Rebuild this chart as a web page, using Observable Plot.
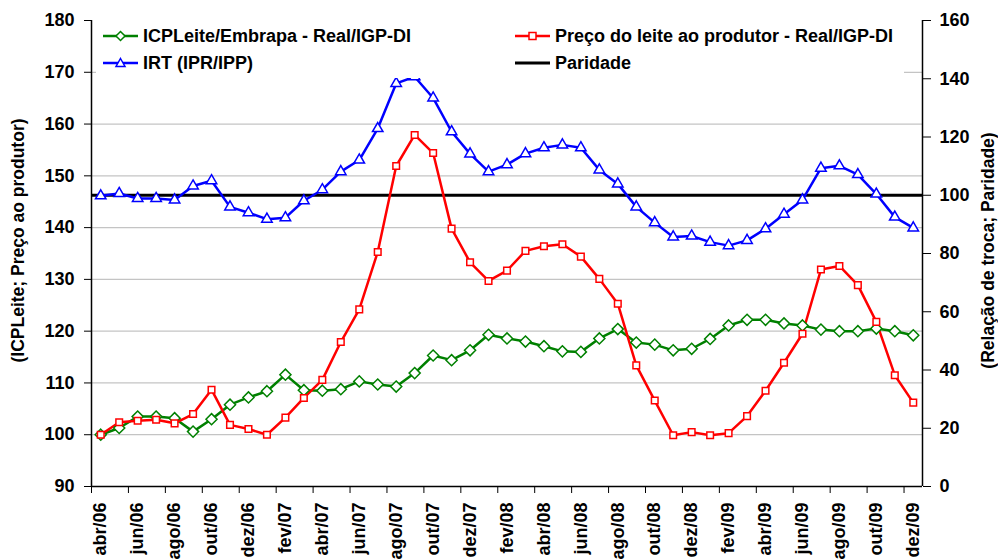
<!DOCTYPE html>
<html><head><meta charset="utf-8">
<script src="https://cdn.jsdelivr.net/npm/d3@7"></script>
<script src="https://cdn.jsdelivr.net/npm/@observablehq/plot@0.6"></script>
<style>
body{margin:0;background:#fff;font-family:"Liberation Sans",Arial,sans-serif;}
#wrap{position:relative;width:998px;height:559px;overflow:hidden;background:#fff;}
#legend{position:absolute;left:96px;top:22px;width:808px;height:56px;background:#fff;font-weight:bold;font-size:18px;color:#000;}
.item{position:absolute;display:flex;align-items:center;white-space:nowrap;height:24px;}
.item svg{margin-right:5px;}
</style></head><body><div id="wrap"><div id="chart"></div><div id="legend"></div></div>
<script>
const months = ["abr/06","mai/06","jun/06","jul/06","ago/06","set/06","out/06","nov/06","dez/06",
"jan/07","fev/07","mar/07","abr/07","mai/07","jun/07","jul/07","ago/07","set/07","out/07","nov/07","dez/07",
"jan/08","fev/08","mar/08","abr/08","mai/08","jun/08","jul/08","ago/08","set/08","out/08","nov/08","dez/08",
"jan/09","fev/09","mar/09","abr/09","mai/09","jun/09","jul/09","ago/09","set/09","out/09","nov/09","dez/09"];
const icpLeite = [100.0,101.3,103.5,103.5,103.2,100.6,103.0,105.8,107.2,108.4,111.6,108.6,108.5,108.8,110.3,109.7,109.3,111.9,115.3,114.4,116.3,119.3,118.6,118.0,117.1,116.1,116.0,118.6,120.4,117.8,117.4,116.3,116.6,118.5,121.1,122.2,122.2,121.5,121.1,120.3,120.0,120.0,120.5,120.0,119.2];
const preco = [100.0,102.4,102.7,102.9,102.2,104.0,108.7,101.9,101.1,100.0,103.3,107.1,110.6,117.9,124.2,135.3,151.9,157.9,154.4,139.8,133.3,129.7,131.7,135.5,136.4,136.8,134.4,130.1,125.3,113.4,106.6,99.9,100.5,99.9,100.3,103.6,108.5,113.9,119.5,131.9,132.6,128.9,121.8,111.5,106.2];
const irt = [99.8,100.6,98.9,98.9,98.4,103.2,105.0,96.0,94.0,91.8,92.3,98.1,101.9,108.1,112.1,122.9,138.4,140.7,133.4,121.8,114.2,108.1,110.5,114.3,116.3,117.3,116.3,108.7,103.9,96.0,90.6,85.7,86.0,83.9,82.7,84.5,88.5,93.5,98.4,109.3,110.1,107.1,100.4,92.5,88.8];
const paridade = 100;
const leftTicks = [90,100,110,120,130,140,150,160,170,180];
const rightTicks = [0,20,40,60,80,100,120,140,160];
const seriesNames = ["ICPLeite/Embrapa - Real/IGP-DI","Preço do leite ao produtor - Real/IGP-DI","IRT (IPR/IPP)","Paridade"];
const leftTitle = "(ICPLeite; Preço ao produtor)";
const rightTitle = "(Relação de troca; Paridade)";

const W = 998, H = 559, ML = 91, MR = 76, MT = 20, MB = 73;
const toLeft = r => 90 + r * (90 / 160);
const rows = months.map((m, i) => ({m, icp: icpLeite[i], preco: preco[i], irt: toLeft(irt[i])}));
const evenMonths = months.filter((d, i) => i % 2 === 0);
const bw = (W - ML - MR) / months.length;
const GREEN = "#008000", RED = "#ff0000", BLUE = "#0000ff";

const chart = Plot.plot({
  width: W, height: H, marginLeft: ML, marginRight: MR, marginTop: MT, marginBottom: MB,
  style: {fontFamily: "'Liberation Sans', Arial, sans-serif", fontWeight: "bold", fontSize: "18px", color: "#000", background: "#fff", overflow: "visible"},
  x: {type: "band", domain: months, paddingInner: 0, paddingOuter: 0, round: false, axis: null},
  y: {domain: [90, 180], axis: null},
  marks: [
    Plot.gridY(leftTicks.filter(t => t > 90 && t < 180), {stroke: "#c4c4c4", strokeOpacity: 1, strokeWidth: 1.3}),
    Plot.ruleY([toLeft(paridade)], {stroke: "#000", strokeWidth: 3}),
    Plot.line(rows, {x: "m", y: "icp", stroke: GREEN, strokeWidth: 2.5}),
    Plot.line(rows, {x: "m", y: "preco", stroke: RED, strokeWidth: 2.5}),
    Plot.line(rows, {x: "m", y: "irt", stroke: BLUE, strokeWidth: 2.5}),
    Plot.dot(rows, {x: "m", y: "icp", symbol: "diamond2", r: 5, stroke: GREEN, fill: "#fff", strokeWidth: 1.5}),
    Plot.dot(rows, {x: "m", y: "preco", symbol: "square2", r: 4.2, stroke: RED, fill: "#fff", strokeWidth: 1.5}),
    Plot.dot(rows, {x: "m", y: "irt", symbol: "triangle2", r: 5, stroke: BLUE, fill: "#fff", strokeWidth: 1.5}),
    Plot.ruleY([90], {stroke: "#000", strokeWidth: 1.5}),
    Plot.ruleX([months[0]], {dx: -bw / 2, stroke: "#000", strokeWidth: 1.5}),
    Plot.ruleX([months[months.length - 1]], {dx: bw / 2, stroke: "#000", strokeWidth: 1.5}),
    Plot.axisY(leftTicks, {anchor: "left", tickSize: 7, tickPadding: 10, label: null, fontSize: 18}),
    Plot.axisY(rightTicks.map(toLeft), {anchor: "right", tickSize: 8, tickPadding: 9, label: null, fontSize: 18,
      tickFormat: d => String(Math.round((d - 90) * 160 / 90))}),
    Plot.axisX(evenMonths, {anchor: "bottom", tickSize: 7, tickFormat: () => "", dx: -bw / 2, label: null}),
    Plot.axisX(evenMonths, {anchor: "bottom", tickSize: 0, tickPadding: 16, tickRotate: -90, label: null, fontSize: 18}),
    Plot.text([leftTitle], {frameAnchor: "left", textAnchor: "middle", rotate: -90, dx: -73, dy: -13, fontSize: 17.5, fontWeight: "bold"}),
    Plot.text([rightTitle], {frameAnchor: "right", textAnchor: "middle", rotate: -90, dx: 66, dy: -3, fontSize: 17.5, fontWeight: "bold"})
  ]
});
document.getElementById("chart").appendChild(chart);

// legend
function swatch(color, sym) {
  let m = "";
  if (sym === "diamond") m = `<path d="M17.5,1.5 L22,6 L17.5,10.5 L13,6 Z" fill="#fff" stroke="${color}" stroke-width="1.5"/>`;
  if (sym === "square") m = `<rect x="14" y="2.5" width="7" height="7" fill="#fff" stroke="${color}" stroke-width="1.5"/>`;
  if (sym === "triangle") m = `<path d="M17.5,1.5 L22,9.5 L13,9.5 Z" fill="#fff" stroke="${color}" stroke-width="1.5"/>`;
  return `<svg width="35" height="12"><line x1="0" x2="35" y1="6" y2="6" stroke="${color}" stroke-width="${sym ? 2.5 : 3}"/>${m}</svg>`;
}
const items = [
  {x: 7, y: 2, c: GREEN, s: "diamond", t: seriesNames[0]},
  {x: 419, y: 2, c: RED, s: "square", t: seriesNames[1]},
  {x: 7, y: 29, c: BLUE, s: "triangle", t: seriesNames[2]},
  {x: 419, y: 29, c: "#000", s: null, t: seriesNames[3]}
];
const lg = document.getElementById("legend");
for (const it of items) {
  const d = document.createElement("div");
  d.className = "item";
  d.style.left = it.x + "px"; d.style.top = it.y + "px";
  d.innerHTML = swatch(it.c, it.s) + `<span>${it.t}</span>`;
  lg.appendChild(d);
}
</script>
</body></html>
